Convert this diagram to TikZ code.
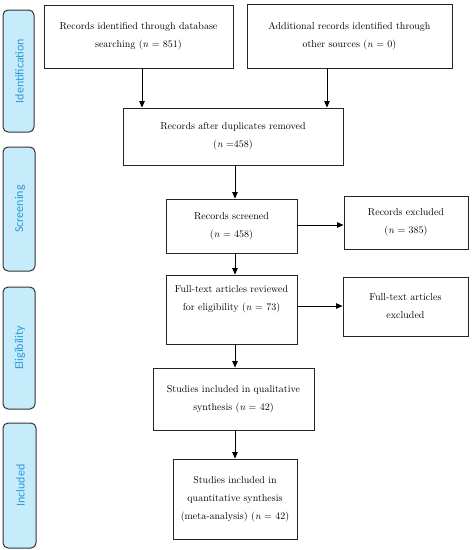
\documentclass[tikz,border=0pt]{standalone}
\usepackage{fontspec}
\newfontfamily\sidefont{Carlito}
\usetikzlibrary{arrows.meta}
\definecolor{sidefill}{HTML}{C6EBFB}
\definecolor{sidetext}{HTML}{2A9AD8}
\begin{document}
\begin{tikzpicture}[x=1pt,y=-1pt,
  box/.style={draw=black!85, line width=0.9pt, fill=white, align=center, inner sep=0pt,
    font=\fontsize{10}{18}\selectfont},
  side/.style={draw=black!80, line width=1pt, rounded corners=5pt, fill=sidefill, inner sep=0pt},
  sidelabel/.style={font=\sidefont\fontsize{12}{14}\selectfont, text=sidetext, rotate=90},
  arr/.style={-{Triangle[length=6.5pt,width=5.5pt]}, line width=0.8pt}]
\useasboundingbox (0,0) rectangle (472,550);

% side phase labels
\node[side, minimum width=31pt, minimum height=122pt] (s1) at (18.5,71) {};
\node[sidelabel] (l1) at ([xshift=1pt]s1.center) {Identification};
\node[side, minimum width=32pt, minimum height=124pt] (s2) at (19,209) {};
\node[sidelabel] (l2) at ([xshift=1pt]s2.center) {Screening};
\node[side, minimum width=32pt, minimum height=122pt] (s3) at (19,348) {};
\node[sidelabel] (l3) at ([xshift=1pt]s3.center) {Eligibility};
\node[side, minimum width=33pt, minimum height=125pt] (s4) at (19.5,485.5) {};
\node[sidelabel] (l4) at ([xshift=1pt]s4.center) {Included};

% boxes
\node[box, minimum width=189pt, minimum height=63pt] (b1) at (138.5,36.5)
  {Records identified through database\\searching (\textit{n} = 851)};
\node[box, minimum width=205pt, minimum height=64pt] (b2) at (349.5,36)
  {Additional records identified through\\other sources (\textit{n} = 0)};
\node[box, minimum width=220pt, minimum height=57pt] (b3) at (233,136.5)
  {Records after duplicates removed\\(\textit{n} =458)};
\node[box, minimum width=131pt, minimum height=54pt] (b4) at (231.5,226)
  {Records screened\\(\textit{n} = 458)};
\node[box, minimum width=124pt, minimum height=53pt] (b5) at (406,222.5)
  {Records excluded\\(\textit{n} = 385)};
\node[box, minimum width=131pt, minimum height=69pt] (b6) at (231.5,309.5)
  {Full-text articles reviewed\\for eligibility (\textit{n} = 73)\\[4pt]};
\node[box, minimum width=125pt, minimum height=59pt] (b7) at (405.5,306.5)
  {Full-text articles\\excluded};
\node[box, minimum width=161pt, minimum height=62pt] (b8) at (233.5,399)
  {Studies included in qualitative\\synthesis (\textit{n} = 42)};
\node[box, minimum width=124pt, minimum height=80pt] (b9) at (235,499)
  {Studies included in\\quantitative synthesis\\(meta-analysis) (\textit{n} = 42)};

% arrow guides
\coordinate (c1) at (142,0);
\coordinate (c2) at (327,0);
\coordinate (ax) at (235,0);
\coordinate (h1) at (0,225);
\coordinate (h2) at (0,306);

\draw[arr] (b1.south -| c1) -- (b3.north -| c1);
\draw[arr] (b2.south -| c2) -- (b3.north -| c2);
\draw[arr] (b3.south -| ax) -- (b4.north -| ax);
\draw[arr] (b4.east |- h1) -- (b5.west |- h1);
\draw[arr] (b4.south -| ax) -- (b6.north -| ax);
\draw[arr] (b6.east |- h2) -- (b7.west |- h2);
\draw[arr] (b6.south -| ax) -- (b8.north -| ax);
\draw[arr] (b8.south -| ax) -- (b9.north -| ax);
\end{tikzpicture}
\end{document}
